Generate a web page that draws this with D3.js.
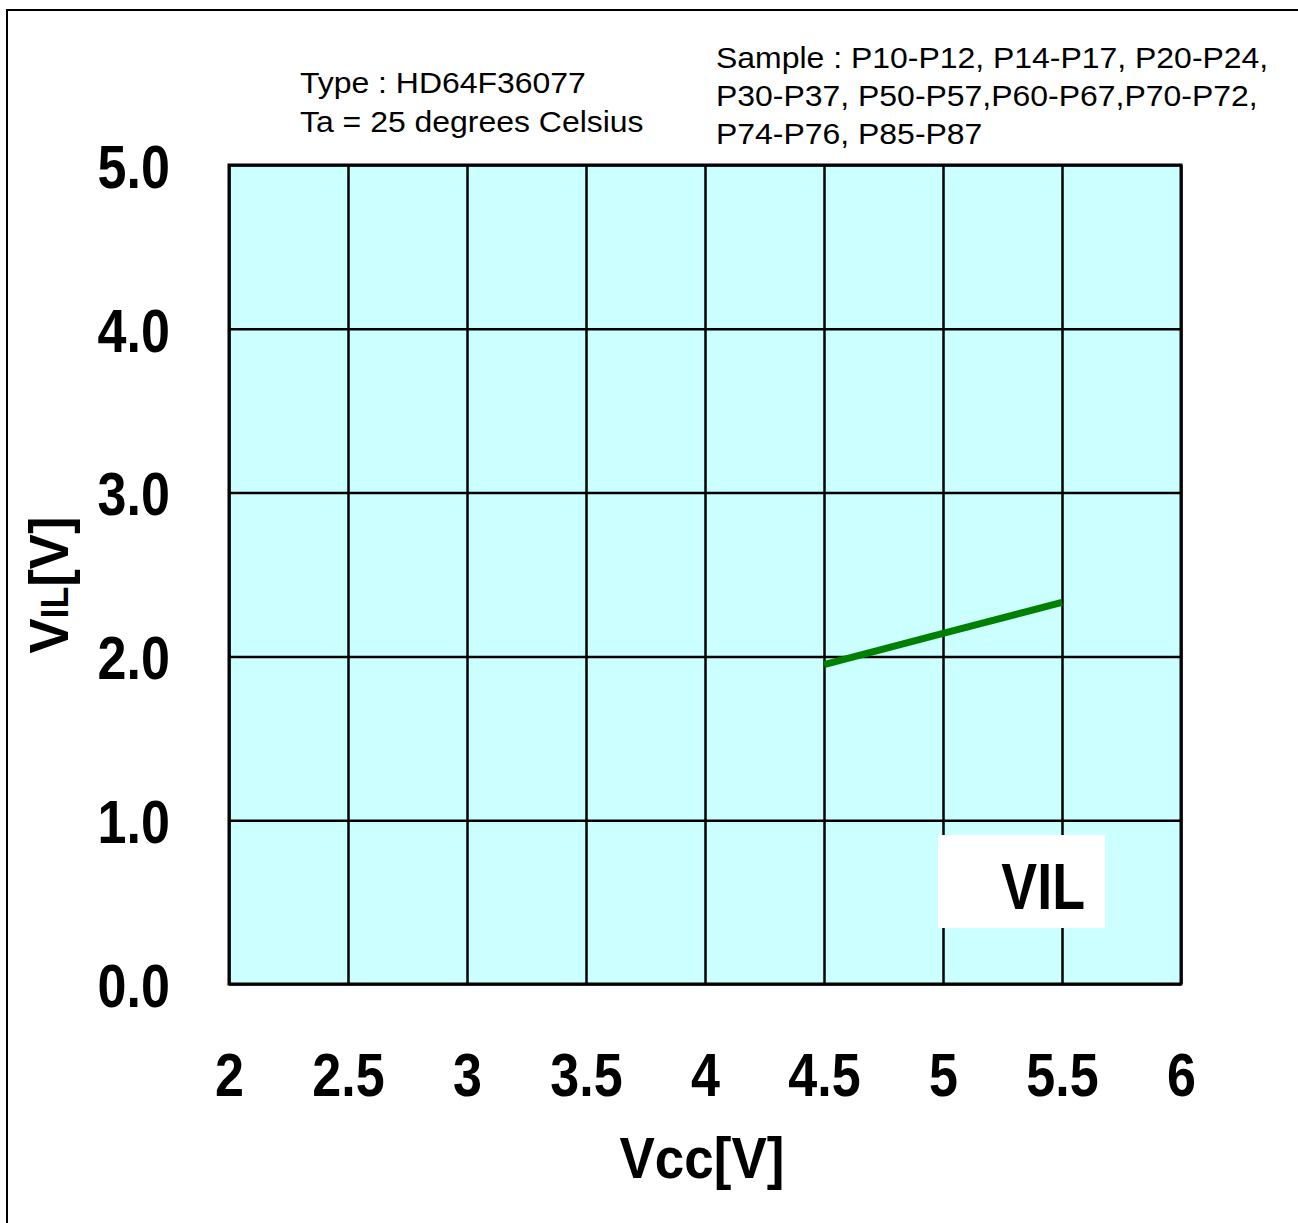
<!DOCTYPE html>
<html lang="en">
<head>
    <meta charset="UTF-8">
    <title>VIL vs Vcc</title>
    <style>
        body { margin : 0; background : #fff }
        svg { display : block }
        text { font-family : "Liberation Sans", Arial, sans-serif }
    </style>
</head>
<body>
    <script src="https://cdnjs.cloudflare.com/ajax/libs/d3/7.8.2/d3.min.js"></script>
    <script>

        // données
        const vcc = [4.5, 5.0, 5.5]
        const vil = [1.95, 2.14, 2.33]

        const xTicks = [2, 2.5, 3, 3.5, 4, 4.5, 5, 5.5, 6]
        const yTicks = [0, 1, 2, 3, 4, 5]

        const infoType = ["Type : HD64F36077", "Ta = 25 degrees Celsius"]
        const infoSample = [
            "Sample : P10-P12, P14-P17, P20-P24,",
            "P30-P37, P50-P57,P60-P67,P70-P72,",
            "P74-P76, P85-P87"
        ]

        const w = 1298
        const h = 1223
        const plot = {left : 229, top : 165, right : 1181, bottom : 984}
        const squeeze = 0.84
        const stretch = 1.065

        let svg = d3.select("body")
            .append("svg")
                .attr("width", w)
                .attr("height", h)

        // cadre extérieur
        svg.append("rect")
            .attr("x", 7).attr("y", 10)
            .attr("width", w + 20).attr("height", h + 20)
            .attr("fill", "none")
            .attr("stroke", "#000")
            .attr("stroke-width", 2)

        const echelleX = d3.scaleLinear()
            .domain([2, 6])
            .range([plot.left, plot.right])

        const echelleY = d3.scaleLinear()
            .domain([0, 5])
            .range([plot.bottom, plot.top])

        // fond
        svg.append("rect")
            .attr("x", plot.left).attr("y", plot.top)
            .attr("width", plot.right - plot.left)
            .attr("height", plot.bottom - plot.top)
            .attr("fill", "#ccffff")

        // grille verticale + labels x
        const axeX = svg.append("g")
            .attr("transform", `translate(0,${plot.bottom})`)
            .call(d3.axisBottom(echelleX)
                .tickValues(xTicks)
                .tickSize(-(plot.bottom - plot.top))
                .tickFormat(d => d))
        axeX.select(".domain").remove()
        axeX.selectAll("line").attr("stroke", "#000").attr("stroke-width", 2.5)
        axeX.selectAll("text")
            .attr("y", 68)
            .attr("dy", "0.71em")
            .attr("transform", `scale(${squeeze},1)`)
            .style("font-size", "62px")
            .style("font-weight", "bold")
            .attr("fill", "#000")

        // grille horizontale + labels y
        const axeY = svg.append("g")
            .attr("transform", `translate(${plot.left},0)`)
            .call(d3.axisLeft(echelleY)
                .tickValues(yTicks)
                .tickSize(-(plot.right - plot.left))
                .tickFormat(d3.format(".1f")))
        axeY.select(".domain").remove()
        axeY.selectAll("line").attr("stroke", "#000").attr("stroke-width", 2.5)
        axeY.selectAll("text")
            .attr("x", -59 / squeeze)
            .attr("dy", "0.36em")
            .attr("transform", `scale(${squeeze},1)`)
            .style("font-size", "62px")
            .style("font-weight", "bold")
            .attr("fill", "#000")

        // bordure de la zone
        svg.append("rect")
            .attr("x", plot.left).attr("y", plot.top)
            .attr("width", plot.right - plot.left)
            .attr("height", plot.bottom - plot.top)
            .attr("fill", "none")
            .attr("stroke", "#000")
            .attr("stroke-width", 3)

        // courbe VIL
        const ligne = d3.line()
            .x((d, i) => echelleX(vcc[i]))
            .y(d => echelleY(d))

        svg.append("path")
            .datum(vil)
            .attr("d", ligne)
            .attr("fill", "none")
            .attr("stroke", "#008000")
            .attr("stroke-width", 7)

        // légende
        svg.append("rect")
            .attr("x", 938).attr("y", 835)
            .attr("width", 167).attr("height", 93)
            .attr("fill", "#fff")
        svg.append("text")
            .attr("x", 1085 / squeeze).attr("y", 909)
            .attr("transform", `scale(${squeeze},1)`)
            .attr("text-anchor", "end")
            .style("font-size", "64px")
            .style("font-weight", "bold")
            .text("VIL")

        // titres des axes
        svg.append("text")
            .attr("x", 702 / 0.93).attr("y", 1178)
            .attr("transform", "scale(0.93,1)")
            .attr("text-anchor", "middle")
            .style("font-size", "57px")
            .style("font-weight", "bold")
            .text("Vcc[V]")

        const titreY = svg.append("text")
            .attr("transform", "translate(68,585) rotate(-90) scale(0.94,1)")
            .attr("text-anchor", "middle")
            .style("font-size", "56px")
            .style("font-weight", "bold")
        titreY.append("tspan").text("V")
        titreY.append("tspan").style("font-size", "38px").text("IL")
        titreY.append("tspan").text("[V]")

        // infos
        svg.selectAll(".type")
            .data(infoType)
            .enter()
            .append("text")
                .attr("x", 300 / stretch)
                .attr("y", (d, i) => 93 + i * 39)
                .attr("transform", `scale(${stretch},1)`)
                .style("font-size", "30px")
                .text(d => d)

        svg.selectAll(".sample")
            .data(infoSample)
            .enter()
            .append("text")
                .attr("x", 716 / stretch)
                .attr("y", (d, i) => 68 + i * 38)
                .attr("transform", `scale(${stretch},1)`)
                .style("font-size", "30px")
                .text(d => d)

    </script>
</body>
</html>
